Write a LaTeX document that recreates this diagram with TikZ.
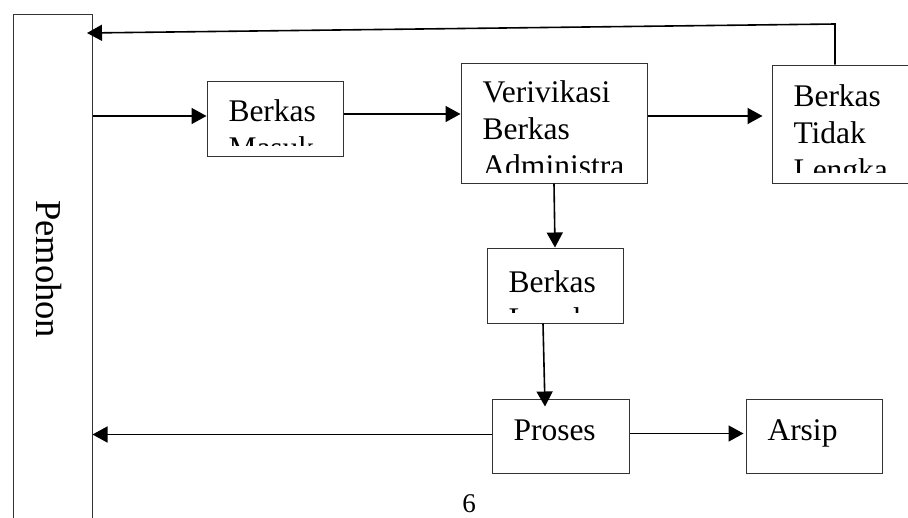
\documentclass[tikz,border=0pt]{standalone}
\usepackage{fontspec}
\setmainfont{Liberation Serif}
\usetikzlibrary{arrows.meta,positioning}

\tikzset{%
  kotak/.style={
    draw=black!80, line width=1pt, inner sep=0pt
  },
  teks/.style={
    font=\fontsize{31.5}{37}\selectfont, align=left, inner sep=0pt,
    minimum width=0pt, minimum height=0pt, draw=none
  },
  % #1 = distance from the top to the baseline of the last line
  isi/.style 2 args={
    path picture={
      \clip ([yshift=11pt]path picture bounding box.south west) rectangle (path picture bounding box.north east);
      \node[teks, anchor=base west] at ([xshift=21pt,yshift=-#1pt]path picture bounding box.north west) {#2};
    }
  },
  panah/.style={
    line width=1.6pt, -{Triangle[length=15pt,width=16pt]}
  }
}

\begin{document}
\begin{tikzpicture}[x=1pt,y=-1pt]
      \useasboundingbox (0,0) rectangle (908,517);
      \clip (0,0) rectangle (908,517);
      \node[kotak, minimum width=79, minimum height=546] at (52.5,287) (pemohon) {};
      \node[font=\fontsize{36.5}{40}\selectfont, rotate=-90, anchor=base west, inner sep=0pt] at (36,200) (pemohonteks) {Pemohon};
      \node[kotak, minimum width=136, minimum height=75, isi={77}{Berkas\\Masuk}] at (275,118.5) (masuk) {};
      \node[kotak, minimum width=186, minimum height=120, isi={113}{Verivikasi\\Berkas\\Administra}] at (554,123) (verif) {};
      \node[kotak, minimum width=186, minimum height=118, isi={115}{Berkas\\Tidak\\Lengka}] at (865,124) (tidak) {};
      \node[kotak, minimum width=136, minimum height=75, isi={81}{Berkas\\Lengka}] at (555,285.5) (lengkap) {};
      \node[kotak, minimum width=137, minimum height=74, isi={41}{Proses}] at (560.5,436) (proses) {};
      \node[kotak, minimum width=136, minimum height=74, isi={41}{Arsip}] at (814,436) (arsip) {};
      \node[font=\fontsize{27}{30}\selectfont, anchor=base, inner sep=0pt] at (469,512.5) (hal) {6};
      \coordinate (belok) at (835,24);
      \coordinate (balik) at (87,33);
      \draw[panah] ([yshift=2.5pt]masuk.west -| pemohon.east) -- ([yshift=2.5pt]masuk.west);
      \draw[panah] ([yshift=4.5pt]masuk.east) -- ([yshift=4.5pt]masuk.east -| verif.west);
      \draw[panah, shorten >=9pt] ([yshift=7pt]verif.east) -- ([yshift=7pt]verif.east -| tidak.west);
      \draw[panah] (verif.south) -- (lengkap.north);
      \draw[panah] ([xshift=-12pt]lengkap.south) -- ([xshift=-15.5pt,yshift=-8pt]proses.north);
      \draw[panah] ([yshift=1.5pt]proses.west) -- ([yshift=1.5pt]proses.west -| pemohon.east);
      \draw[panah, shorten >=2pt] ([yshift=2.5pt]proses.east) -- ([yshift=2.5pt]proses.east -| arsip.west);
      \draw[panah] (belok |- tidak.north) -- (belok) -- (balik);
    \end{tikzpicture}
\end{document}
